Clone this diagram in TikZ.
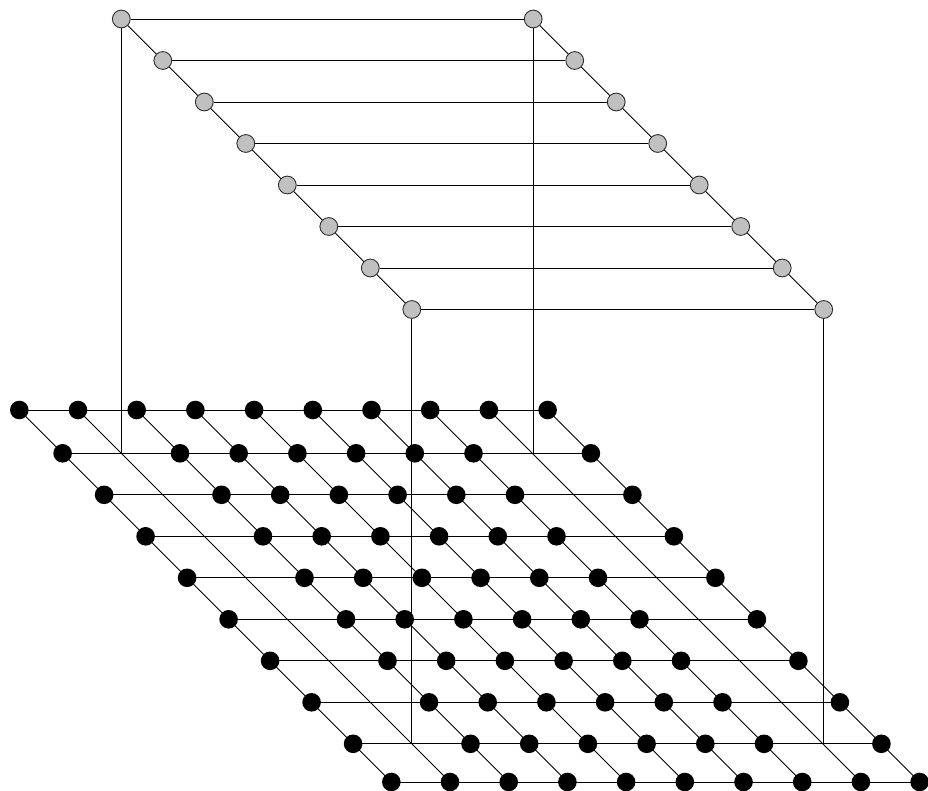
\documentclass[tikz,border=0pt]{standalone}
\pgfdeclarelayer{bg}
\pgfsetlayers{bg,main}
\definecolor{nodegray}{RGB}{192,192,192}
\definecolor{rimgray}{RGB}{45,45,45}
\begin{document}
\begin{tikzpicture}[x=1pt,y=-1pt,
  bdot/.style={circle,fill=black,inner sep=0pt,minimum size=18.6pt},
  gdot/.style={circle,fill=nodegray,draw=rimgray,line width=0.9pt,inner sep=0pt,minimum size=17.8pt},
  wire/.style={line width=0.9pt,draw=black}]
\useasboundingbox (0,0) rectangle (928,791);
% bottom grid positions
\foreach \r/\yy in {0/410,1/453.3,2/494.8,3/536.3,4/577.8,5/619.3,6/660.8,7/702.3,8/743.8,9/782}{
  \foreach \c in {0,...,9}{
    \pgfmathsetmacro\xx{19.3+58.7*\c+\yy-410}
    \pgfmathtruncatemacro\miss{(\r>0 && \r<9 && (\c==1 || \c==8)) ? 1 : 0}
    \ifnum\miss=1
      \coordinate (b-\r-\c) at (\xx,\yy);
    \else
      \node[bdot] (b-\r-\c) at (\xx,\yy) {};
    \fi
  }
}
% top layer
\foreach \r in {1,...,8}{
  \node[gdot] (t-\r-L) at ([yshift=434.3pt]b-\r-1) {};
  \node[gdot] (t-\r-R) at ([yshift=434.3pt,xshift=1pt]b-\r-8) {};
}
\begin{pgfonlayer}{bg}
  \foreach \r in {0,...,9}{
    \draw[wire] (b-\r-0.center) -- (b-\r-9.center);
  }
  \foreach \c in {0,...,9}{
    \draw[wire] (b-0-\c.center) -- (b-9-\c.center);
  }
  \foreach \r in {1,...,8}{
    \draw[wire] (t-\r-L) -- (t-\r-R);
  }
  \draw[wire] (t-1-L.center) -- (t-8-L.center);
  \draw[wire] (t-1-R.center) -- (t-8-R.center);
  \draw[wire] (t-1-L) -- (b-1-1);
  \draw[wire] (t-1-R) -- ([xshift=1pt]b-1-8);
  \draw[wire] (t-8-L) -- (b-8-1);
  \draw[wire] (t-8-R) -- ([xshift=1pt]b-8-8);
\end{pgfonlayer}
\end{tikzpicture}
\end{document}
